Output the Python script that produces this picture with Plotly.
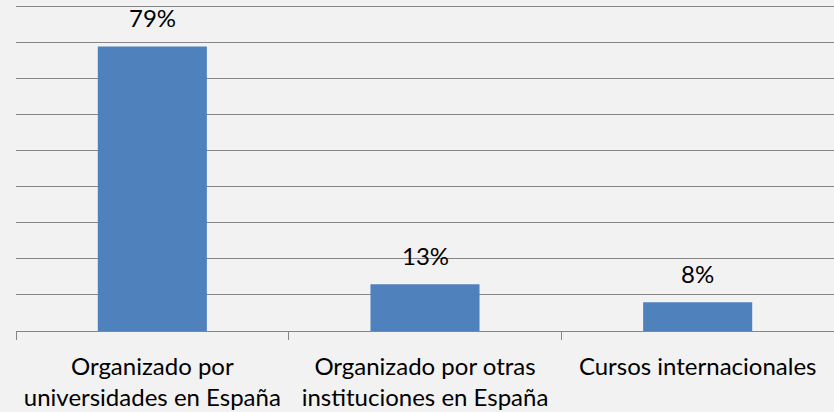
import plotly.graph_objects as go

categorias = [
    'Organizado por<br>universidades en España',
    'Organizado por otras<br>instituciones en España',
    'Cursos internacionales',
]
valores = [0.79, 0.13, 0.08]
etiquetas = ['79%', '13%', '8%']

fuente = 'Lato'

fig = go.Figure()
fig.add_trace(
    go.Bar(
        x=categorias,
        y=valores,
        marker=dict(color='#4f81bd', line=dict(width=0)),
        width=0.4,
        hoverinfo='skip',
    )
)

for cat, val, txt in zip(categorias, valores, etiquetas):
    fig.add_annotation(
        x=cat, y=val, text=txt, showarrow=False,
        yanchor='bottom', yshift=12,
        font=dict(family=fuente, size=24, color='#000000'),
    )

fig.update_layout(
    width=834,
    height=412,
    paper_bgcolor='#f2f2f2',
    plot_bgcolor='#f2f2f2',
    margin=dict(l=16, r=0, t=5, b=81),
    showlegend=False,
    bargap=0.6,
    font=dict(family=fuente, size=24, color='#000000'),
)
fig.update_yaxes(
    range=[0, 0.905],
    tick0=0,
    dtick=0.1,
    showticklabels=False,
    showgrid=True,
    gridcolor='#868686',
    gridwidth=1.3,
    zeroline=False,
    showline=False,
    automargin=False,
)
fig.update_xaxes(
    showline=True,
    linecolor='#868686',
    linewidth=1.3,
    ticks='outside',
    tickson='boundaries',
    ticklen=8,
    tickcolor='#868686',
    ticklabelstandoff=14,
    automargin=False,
    tickfont=dict(family=fuente, size=24, color='#000000'),
)

fig.write_html(
    'out.html',
    config={'displayModeBar': False},
    post_script="document.body.style.margin='0';document.body.style.overflow='hidden';",
)
